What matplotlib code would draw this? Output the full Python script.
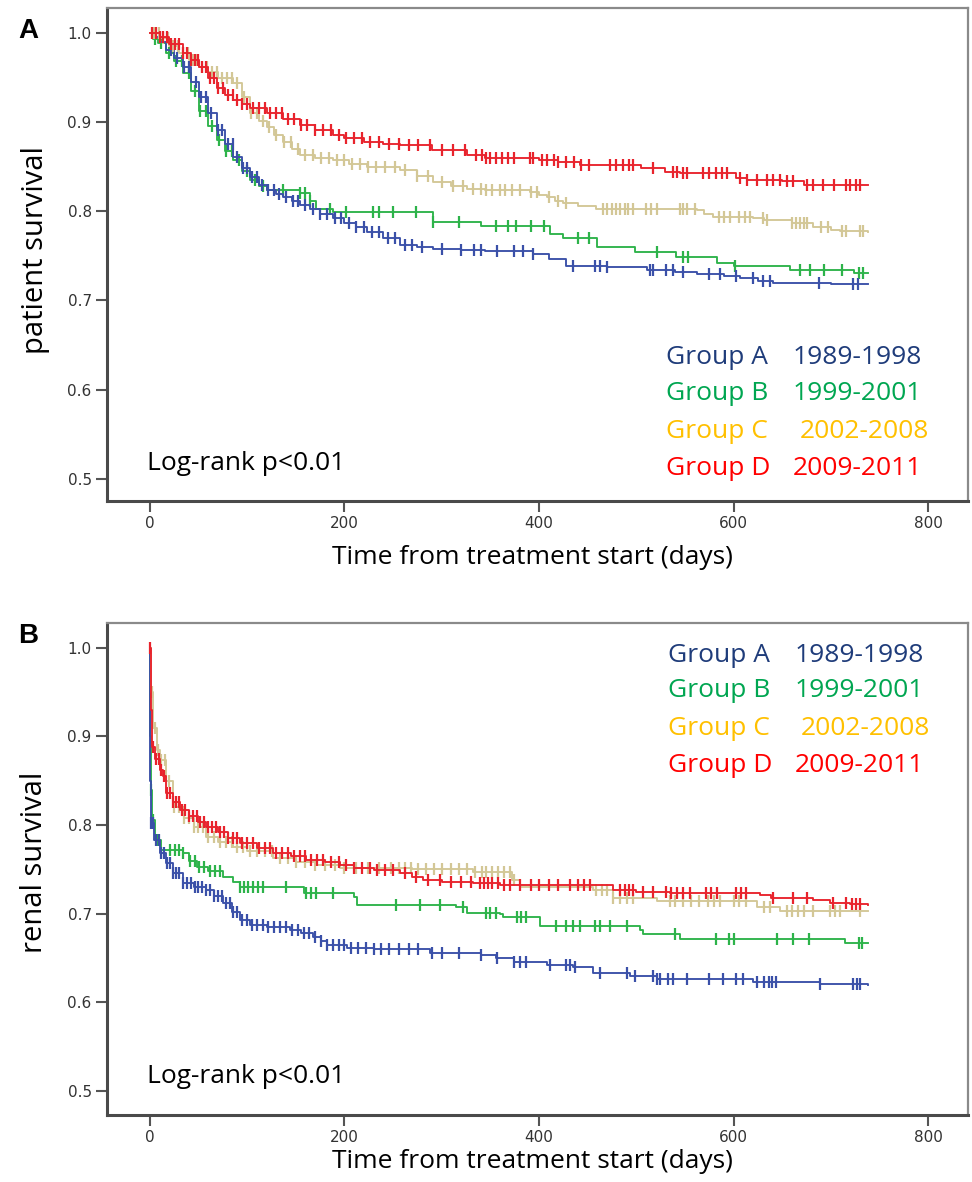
import numpy as np
import matplotlib
matplotlib.use("Agg")
import matplotlib.pyplot as plt

# ---------------- data ----------------
groups = ["Group A", "Group B", "Group C", "Group D"]
years = ["1989-1998", "1999-2001", "2002-2008", "2009-2011"]
xticks = [0, 200, 400, 600, 800]
yticks = [0.5, 0.6, 0.7, 0.8, 0.9, 1.0]

# Panel A: patient survival (step times in days, survival after step)
a_blue_t = [0, 5, 10, 17, 25, 34, 42, 51, 60, 69, 77, 86, 95, 103, 112, 120, 130, 137, 146, 154, 165, 175, 188, 200,
            212, 223, 240, 257, 275, 291, 320, 345, 394, 410, 428, 470, 511, 540, 562, 590, 607, 625, 641, 700, 738]
a_blue_s = [1.0, 0.995, 0.99, 0.981, 0.972, 0.962, 0.945, 0.928, 0.91, 0.891, 0.875, 0.861, 0.848, 0.838, 0.830,
            0.824, 0.819, 0.816, 0.811, 0.807, 0.802, 0.797, 0.792, 0.787, 0.782, 0.777, 0.770, 0.762, 0.760, 0.758,
            0.756, 0.755, 0.752, 0.746, 0.739, 0.737, 0.734, 0.732, 0.730, 0.727, 0.725, 0.722, 0.719, 0.718, 0.718]
a_blue_c = [22, 28, 35, 40, 47, 53, 58, 63, 70, 74, 80, 85, 90, 96, 100, 105, 110, 115, 122, 128, 133, 140, 147, 152,
            160, 168, 175, 182, 190, 197, 205, 212, 220, 228, 236, 245, 252, 262, 270, 280, 300, 320, 333, 340, 357,
            374, 384, 394, 435, 458, 463, 470, 514, 517, 531, 538, 548, 575, 586, 603, 620, 630, 637, 688, 723, 728]

a_green_t = [0, 3, 8, 17, 25, 34, 42, 51, 60, 69, 77, 86, 95, 103, 112, 120, 154, 165, 171, 188, 291, 340, 411,
             425, 460, 499, 541, 583, 600, 658, 724, 738]
a_green_s = [1.0, 0.993, 0.989, 0.977, 0.968, 0.955, 0.935, 0.913, 0.896, 0.880, 0.868, 0.857, 0.845, 0.835, 0.828,
             0.824, 0.820, 0.812, 0.803, 0.799, 0.788, 0.784, 0.775, 0.770, 0.760, 0.754, 0.749, 0.742, 0.739, 0.734,
             0.731, 0.731]
a_green_c = [5, 12, 20, 27, 33, 40, 46, 52, 58, 64, 71, 78, 84, 92, 100, 108, 116, 137, 154, 160, 165, 185, 202,
             229, 236, 250, 274, 291, 318, 356, 368, 376, 392, 405, 440, 451, 521, 548, 553, 602, 668, 679, 693,
             712, 729, 733]

a_tan_t = [0, 10, 20, 30, 40, 51, 60, 70, 86, 95, 103, 112, 120, 128, 137, 146, 154, 170, 188, 205, 223, 257, 275,
           291, 310, 326, 345, 391, 400, 408, 416, 425, 440, 459, 562, 570, 579, 620, 631, 660, 682, 700, 709, 738]
a_tan_s = [1.0, 0.994, 0.985, 0.977, 0.970, 0.962, 0.956, 0.950, 0.944, 0.928, 0.910, 0.901, 0.894, 0.886, 0.878,
           0.870, 0.863, 0.860, 0.857, 0.853, 0.850, 0.846, 0.840, 0.833, 0.828, 0.825, 0.824, 0.822, 0.818, 0.816,
           0.812, 0.809, 0.806, 0.802, 0.801, 0.797, 0.794, 0.792, 0.790, 0.787, 0.782, 0.779, 0.778, 0.777]
a_tan_c = [4, 9, 14, 19, 24, 29, 34, 39, 44, 49, 54, 59, 64, 69, 74, 79, 84, 90, 97, 104, 110, 116, 123, 130, 138,
           145, 152, 160, 168, 176, 184, 192, 200, 208, 216, 224, 232, 242, 252, 262, 275, 286, 300, 312, 322,
           332, 340, 346, 352, 360, 365, 372, 380, 392, 398, 410, 420, 428, 466, 470, 475, 479, 483, 488, 492,
           497, 510, 515, 521, 545, 548, 552, 560, 585, 590, 596, 606, 612, 617, 630, 634, 660, 664, 668, 672,
           676, 690, 697, 711, 716, 730, 733]

a_red_t = [0, 10, 20, 34, 42, 51, 60, 69, 77, 86, 95, 103, 120, 137, 154, 170, 188, 200, 220, 240, 257, 290, 326,
           345, 400, 420, 442, 505, 530, 545, 603, 614, 650, 672, 738]
a_red_s = [1.0, 0.995, 0.988, 0.977, 0.970, 0.962, 0.950, 0.938, 0.930, 0.925, 0.920, 0.916, 0.910, 0.904, 0.897,
           0.891, 0.885, 0.882, 0.878, 0.876, 0.874, 0.869, 0.863, 0.860, 0.858, 0.855, 0.852, 0.848, 0.844, 0.843,
           0.837, 0.835, 0.834, 0.830, 0.830]
a_red_c = [2, 6, 10, 14, 18, 22, 26, 30, 34, 38, 42, 46, 50, 54, 58, 62, 66, 70, 75, 80, 85, 90, 95, 100, 106,
           112, 118, 124, 130, 136, 142, 148, 155, 162, 170, 178, 186, 194, 202, 210, 218, 226, 236, 246, 256,
           266, 276, 288, 300, 312, 324, 335, 341, 346, 350, 356, 362, 368, 374, 391, 394, 403, 408, 415, 420,
           428, 436, 443, 451, 473, 479, 486, 493, 497, 517, 538, 542, 548, 552, 569, 575, 582, 588, 593, 607,
           614, 624, 634, 641, 648, 655, 661, 675, 682, 692, 703, 716, 720, 726, 730]

# Panel B: renal survival
b_blue_t = [0, 0.5, 1, 4, 10, 17, 24, 34, 45, 58, 66, 75, 84, 93, 103, 120, 144, 155, 168, 176, 182, 203, 230, 288,
            340, 356, 374, 408, 435, 456, 494, 521, 620, 689, 738]
b_blue_s = [1.0, 0.85, 0.802, 0.783, 0.769, 0.757, 0.746, 0.735, 0.730, 0.727, 0.720, 0.712, 0.702, 0.693, 0.687,
            0.685, 0.682, 0.678, 0.674, 0.669, 0.665, 0.661, 0.660, 0.656, 0.653, 0.650, 0.646, 0.642, 0.640, 0.633,
            0.630, 0.626, 0.623, 0.621, 0.620]
b_blue_c = [1, 3, 6, 9, 12, 15, 18, 21, 24, 27, 30, 34, 38, 42, 46, 50, 54, 58, 62, 66, 70, 74, 78, 82, 86, 90,
            95, 100, 105, 110, 116, 122, 128, 134, 140, 146, 152, 158, 164, 170, 176, 182, 188, 194, 200, 207,
            214, 222, 230, 238, 246, 256, 266, 276, 290, 300, 318, 340, 357, 374, 380, 387, 411, 428, 432, 437,
            463, 490, 499, 517, 521, 524, 533, 538, 552, 575, 589, 603, 610, 624, 631, 636, 640, 644, 689, 723,
            727, 730]

b_green_t = [0, 0.5, 1, 2, 5, 12, 34, 40, 48, 60, 75, 85, 93, 155, 158, 210, 213, 315, 326, 360, 363, 400, 401,
             504, 507, 545, 713, 715, 738]
b_green_s = [1.0, 0.90, 0.84, 0.806, 0.783, 0.772, 0.769, 0.760, 0.753, 0.748, 0.742, 0.736, 0.730, 0.730, 0.723,
             0.719, 0.710, 0.708, 0.701, 0.700, 0.696, 0.696, 0.686, 0.682, 0.677, 0.672, 0.672, 0.667, 0.667]
b_green_c = [1, 3, 7, 21, 26, 30, 34, 41, 46, 51, 56, 62, 67, 72, 93, 97, 101, 106, 111, 116, 140, 161, 166, 171,
             188, 253, 278, 298, 322, 346, 350, 356, 377, 382, 387, 418, 428, 435, 442, 458, 463, 473, 490, 540,
             582, 595, 600, 645, 661, 678, 729, 732]

b_tan_t = [0, 1, 3, 7, 10, 17, 24, 35, 45, 58, 70, 85, 100, 127, 150, 170, 195, 270, 332, 372, 380, 456, 476, 521,
           624, 648, 738]
b_tan_s = [1.0, 0.95, 0.91, 0.885, 0.874, 0.850, 0.821, 0.808, 0.798, 0.787, 0.781, 0.775, 0.771, 0.763, 0.758,
           0.755, 0.752, 0.750, 0.747, 0.738, 0.730, 0.727, 0.718, 0.714, 0.708, 0.703, 0.703]
b_tan_c = [2, 5, 8, 12, 16, 20, 25, 30, 35, 40, 45, 50, 55, 60, 66, 72, 78, 84, 90, 96, 103, 110, 118, 126, 134,
           142, 150, 160, 170, 180, 190, 200, 212, 224, 236, 248, 256, 262, 268, 276, 284, 292, 300, 310, 318,
           326, 334, 341, 346, 352, 358, 364, 370, 374, 459, 465, 470, 476, 483, 490, 497, 535, 540, 548, 556,
           565, 574, 580, 586, 600, 606, 613, 631, 637, 655, 660, 666, 672, 682, 699, 704, 709, 730]

b_red_t = [0, 1, 2, 5, 10, 14, 17, 24, 31, 40, 50, 58, 70, 80, 93, 110, 127, 145, 161, 180, 195, 210, 230, 257, 270,
           281, 300, 332, 360, 476, 500, 535, 627, 638, 682, 699, 720, 738]
b_red_s = [1.0, 0.93, 0.888, 0.875, 0.862, 0.855, 0.836, 0.826, 0.817, 0.810, 0.803, 0.798, 0.792, 0.786, 0.780,
           0.774, 0.769, 0.765, 0.761, 0.758, 0.755, 0.752, 0.749, 0.746, 0.742, 0.738, 0.736, 0.735, 0.733, 0.727,
           0.725, 0.723, 0.721, 0.718, 0.715, 0.712, 0.711, 0.710]
b_red_c = [0, 3, 6, 9, 12, 15, 18, 21, 24, 27, 30, 33, 36, 40, 44, 48, 52, 56, 60, 64, 68, 72, 76, 80, 85, 90,
           95, 100, 106, 112, 118, 124, 130, 136, 142, 148, 154, 160, 166, 172, 178, 186, 194, 202, 210, 218,
           226, 234, 242, 250, 262, 274, 286, 298, 310, 320, 330, 339, 343, 348, 352, 358, 364, 370, 380, 392,
           400, 410, 420, 432, 440, 446, 452, 483, 488, 493, 497, 507, 517, 531, 536, 542, 548, 555, 572, 577,
           583, 603, 608, 613, 641, 661, 675, 702, 716, 722, 726, 730]

# ---------------- styling ----------------
line_colors = ["#3A50A8", "#2DB34A", "#D3C796", "#E8232C"]
text_colors = ["#1F3C7A", "#00A651", "#FFC000", "#FF0000"]

W, H = 972, 1182
fig = plt.figure(figsize=(W / 100, H / 100), dpi=100)
fig.patch.set_facecolor("white")

def fx(x):
    return x / W

def fy(y):
    return 1 - y / H

TXT_FONT = ["Open Sans", "DejaVu Sans"]

def km(ax, t, s, c, color, z):
    t = np.asarray(t, float)
    s = np.asarray(s, float)
    ax.step(t, s, where="post", color=color, lw=1.35, zorder=z)
    c = np.asarray(c, float)
    idx = np.searchsorted(t, c, side="right") - 1
    ax.plot(c, s[idx], linestyle="none", marker="|", ms=9, mew=1.6, color=color, zorder=z)

def setup(ax):
    ax.set_xlim(-44, 841)
    ax.set_xticks(xticks)
    ax.set_yticks(yticks)
    ax.set_yticklabels([f"{v:.1f}" for v in yticks])
    ax.tick_params(axis="both", direction="out", length=8, width=1.5, color="#555555",
                   labelsize=11, labelcolor="#333333", pad=3)
    for sp in ["left", "bottom"]:
        ax.spines[sp].set_color("#4a4a4a")
        ax.spines[sp].set_linewidth(2.2)
    for sp in ["top", "right"]:
        ax.spines[sp].set_color("#8a8a8a")
        ax.spines[sp].set_linewidth(1.6)

panels = [
    dict(rect=[fx(107), fy(501), fx(968 - 107), (501 - 8) / H], ylim=(0.475, 1.028),
         data=[(a_green_t, a_green_s, a_green_c, 1), (a_blue_t, a_blue_s, a_blue_c, 0),
               (a_tan_t, a_tan_s, a_tan_c, 2), (a_red_t, a_red_s, a_red_c, 3)],
         ylabel="patient survival", ylab_y=250, xlab_y=557, letter="A", letter_y=38,
         leg_y=[364, 400, 438, 475], leg_x=666, yr_x=[793, 793, 800, 793], lr_y=470),
    dict(rect=[fx(107), fy(1115), fx(968 - 107), (1115 - 623) / H], ylim=(0.473, 1.028),
         data=[(b_green_t, b_green_s, b_green_c, 1), (b_blue_t, b_blue_s, b_blue_c, 0),
               (b_tan_t, b_tan_s, b_tan_c, 2), (b_red_t, b_red_s, b_red_c, 3)],
         ylabel="renal survival", ylab_y=862, xlab_y=1161, letter="B", letter_y=643,
         leg_y=[662, 697, 735, 772], leg_x=668, yr_x=[795, 795, 801, 795], lr_y=1083),
]

for p in panels:
    ax = fig.add_axes(p["rect"])
    ax.set_ylim(*p["ylim"])
    for z, (t, s, c, gi) in enumerate(p["data"]):
        km(ax, t, s, c, line_colors[gi], 3 + z)
    setup(ax)
    fig.text(fx(35), fy(p["ylab_y"]), p["ylabel"], rotation=90, ha="center", va="center",
             fontsize=21, family=TXT_FONT, color="black")
    fig.text(fx(532), fy(p["xlab_y"]), "Time from treatment start (days)", ha="center", va="center",
             fontsize=19, family=TXT_FONT, color="black")
    fig.text(fx(18), fy(p["letter_y"]), p["letter"], ha="left", va="baseline", fontsize=20,
             fontweight="bold", family=["Liberation Sans", "DejaVu Sans"], color="black")
    for i in range(4):
        fig.text(fx(p["leg_x"]), fy(p["leg_y"][i]), groups[i], ha="left", va="baseline",
                 fontsize=19, family=TXT_FONT, color=text_colors[i])
        fig.text(fx(p["yr_x"][i]), fy(p["leg_y"][i]), years[i], ha="left", va="baseline",
                 fontsize=19, family=TXT_FONT, color=text_colors[i])
    fig.text(fx(147), fy(p["lr_y"]), "Log-rank p<0.01", ha="left", va="baseline",
             fontsize=19, family=TXT_FONT, color="black")

fig.savefig("out.png", dpi=100, facecolor="white")
